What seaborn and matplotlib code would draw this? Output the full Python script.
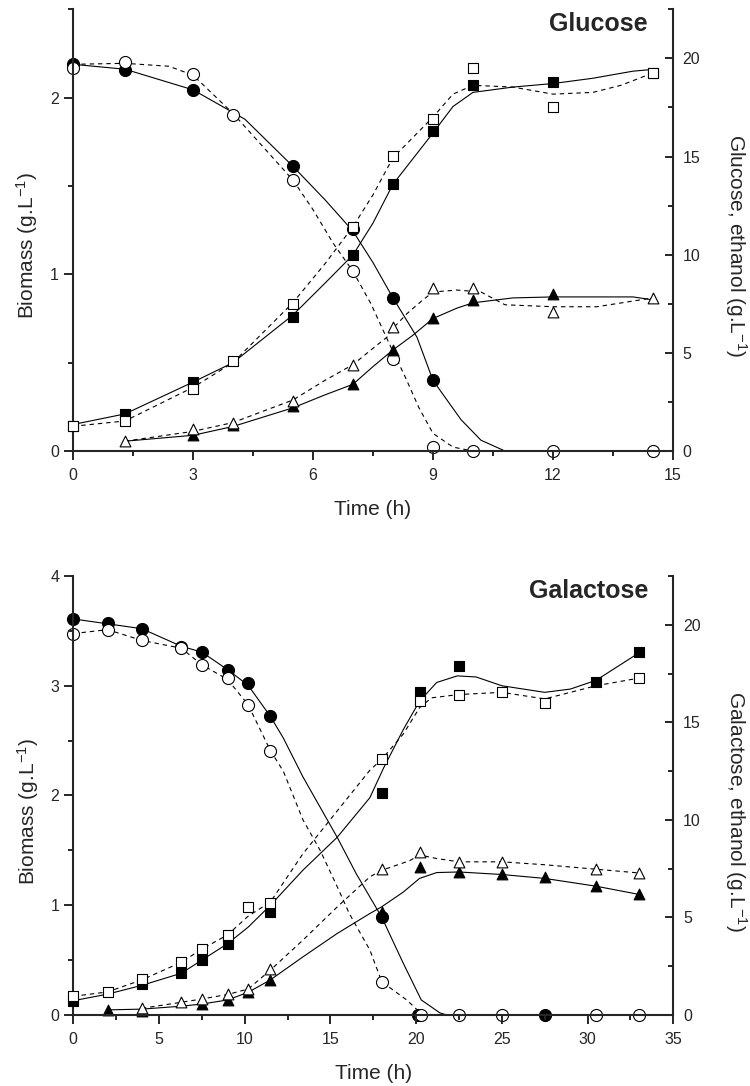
import matplotlib
matplotlib.use('Agg')
import matplotlib.pyplot as plt
import seaborn as sns
from matplotlib.ticker import MultipleLocator

# ---------------- Glucose panel: measured points ----------------
glu_t_sub_f = [0, 1.3, 3, 5.5, 7, 8, 9]
glu_sub_f = [19.7, 19.4, 18.4, 14.5, 11.3, 7.8, 3.6]
glu_t_sub_o = [0, 1.3, 3, 4, 5.5, 7, 8, 9, 10, 12, 14.5]
glu_sub_o = [19.5, 19.8, 19.2, 17.1, 13.8, 9.15, 4.7, 0.2, 0, 0, 0]

glu_t_bio_f = [0, 1.3, 3, 5.5, 7, 8, 9, 10, 12, 14.5]
glu_bio_f = [0.14, 0.21, 0.39, 0.76, 1.11, 1.51, 1.81, 2.07, 2.09, 2.14]
glu_t_bio_o = [0, 1.3, 3, 4, 5.5, 7, 8, 9, 10, 12, 14.5]
glu_bio_o = [0.14, 0.17, 0.35, 0.51, 0.83, 1.27, 1.67, 1.88, 2.17, 1.95, 2.14]

glu_t_eth_f = [3, 4, 5.5, 7, 8, 9, 10, 12]
glu_eth_f = [0.8, 1.3, 2.3, 3.4, 5.15, 6.8, 7.7, 8.0]
glu_t_eth_o = [1.3, 3, 4, 5.5, 7, 8, 9, 10, 12, 14.5]
glu_eth_o = [0.5, 1.1, 1.45, 2.55, 4.4, 6.3, 8.3, 8.3, 7.1, 7.8]

# ---------------- Glucose panel: fitted curves ----------------
glu_fit_t_sub_f = [0, 1.3, 3, 4.3, 5.5, 6.3, 7, 7.5, 8, 8.6, 9, 9.7, 10.2, 10.8]
glu_fit_sub_f = [19.7, 19.45, 18.4, 16.9, 14.5, 12.8, 11.2, 9.6, 7.8, 5.8, 3.6, 1.6, 0.55, 0.0]
glu_fit_t_sub_o = [0, 1.3, 2.4, 3, 4, 5.5, 6, 6.5, 7, 7.45, 7.9, 8.3, 8.65, 9, 9.5, 10]
glu_fit_sub_o = [19.7, 19.75, 19.6, 19.15, 17.2, 13.8, 12.3, 10.6, 9.15, 7.5, 5.5, 3.8, 2.2, 0.9, 0.2, 0]

glu_fit_t_bio_f = [0, 1.3, 3, 4, 5.5, 6.3, 7, 7.5, 8, 9, 9.5, 10, 11, 12, 13, 14, 14.5]
glu_fit_bio_f = [0.15, 0.21, 0.39, 0.5, 0.77, 0.95, 1.11, 1.29, 1.51, 1.8, 1.95, 2.03, 2.06, 2.08, 2.11, 2.15, 2.16]
glu_fit_t_bio_o = [0, 1.3, 3, 4, 5.5, 6.3, 7, 7.5, 8, 9, 9.5, 10, 11, 12, 13, 13.7, 14.5]
glu_fit_bio_o = [0.14, 0.17, 0.36, 0.5, 0.84, 1.06, 1.27, 1.45, 1.66, 1.89, 2.02, 2.07, 2.06, 2.02, 2.03, 2.07, 2.14]

glu_fit_t_eth_f = [1.3, 3, 4, 5.5, 6.3, 7, 7.5, 8, 8.5, 9, 9.6, 10, 11, 12, 14, 14.5]
glu_fit_eth_f = [0.5, 0.8, 1.25, 2.2, 2.86, 3.4, 4.3, 5.15, 5.9, 6.75, 7.28, 7.55, 7.8, 7.85, 7.85, 7.7]
glu_fit_t_eth_o = [1.3, 3, 4, 5.5, 6.3, 7, 7.45, 7.85, 8, 8.35, 8.75, 9, 9.6, 10.2, 10.8, 12, 13.1, 14.5]
glu_fit_eth_o = [0.5, 1.0, 1.45, 2.6, 3.6, 4.4, 5.15, 5.8, 6.25, 7.0, 7.7, 8.1, 8.2, 8.1, 7.45, 7.35, 7.35, 7.8]

# ---------------- Galactose panel: measured points ----------------
gal_t_sub_f = [0, 2, 4, 6.3, 7.5, 9, 10.2, 11.5, 18, 20.1, 27.5]
gal_sub_f = [20.3, 20.1, 19.8, 18.85, 18.6, 17.7, 17.0, 15.3, 5.0, 0, 0]
gal_t_sub_o = [0, 2, 4, 6.3, 7.5, 9, 10.2, 11.5, 18, 20.3, 22.5, 25, 30.5, 33]
gal_sub_o = [19.55, 19.75, 19.2, 18.8, 17.95, 17.25, 15.9, 13.55, 1.7, 0, 0, 0, 0, 0]

gal_t_bio_f = [0, 4, 6.3, 7.5, 9, 11.5, 18, 20.2, 22.5, 30.5, 33]
gal_bio_f = [0.13, 0.28, 0.38, 0.5, 0.65, 0.94, 2.02, 2.94, 3.18, 3.03, 3.31]
gal_t_bio_o = [0, 2, 4, 6.3, 7.5, 9, 10.2, 11.5, 18, 20.2, 22.5, 25, 27.5, 33]
gal_bio_o = [0.17, 0.21, 0.33, 0.48, 0.6, 0.73, 0.98, 1.02, 2.33, 2.86, 2.92, 2.94, 2.84, 3.07]

gal_t_eth_f = [2, 4, 7.5, 9, 10.2, 11.5, 18, 20.2, 22.5, 25, 27.5, 30.5, 33]
gal_eth_f = [0.26, 0.2, 0.56, 0.77, 1.16, 1.79, 5.3, 7.6, 7.33, 7.22, 7.05, 6.6, 6.18]
gal_t_eth_o = [4, 6.3, 7.5, 9, 10.2, 11.5, 18, 20.2, 22.5, 25, 30.5, 33]
gal_eth_o = [0.34, 0.65, 0.82, 1.1, 1.33, 2.35, 7.47, 8.36, 7.85, 7.85, 7.47, 7.28]

# ---------------- Galactose panel: fitted curves ----------------
gal_fit_t_sub_f = [0, 2, 4, 6.3, 7.5, 9, 10.2, 11.5, 12.25, 13.4, 15.4, 16.5, 18, 19.25, 20.3, 21.4, 21.8]
gal_fit_sub_f = [20.3, 20.05, 19.8, 18.9, 18.6, 17.7, 16.9, 15.3, 14.2, 12.2, 9.1, 7.25, 5.0, 2.65, 0.77, 0.1, 0]
gal_fit_t_sub_o = [0, 2, 4, 6.3, 7.5, 9, 10.2, 11.5, 12.25, 13.4, 14.4, 15.4, 16.1, 17.3, 18, 19.45, 20.2, 20.5]
gal_fit_sub_o = [19.55, 19.75, 19.2, 18.8, 17.95, 17.2, 15.9, 13.55, 12.5, 10.0, 8.44, 6.57, 5.2, 3.33, 1.7, 0.77, 0.15, 0]

gal_fit_t_bio_f = [0, 2, 4, 6.3, 7.5, 9, 10.2, 11.5, 13.4, 15.4, 17.3, 18.1, 19.25, 20.2, 21.2, 22.4, 23.5, 25, 27.5, 29, 30.5, 33]
gal_fit_bio_f = [0.13, 0.19, 0.27, 0.38, 0.5, 0.65, 0.8, 1.0, 1.32, 1.62, 1.98, 2.25, 2.6, 2.86, 3.03, 3.09, 3.08, 3.0, 2.94, 2.97, 3.05, 3.3]
gal_fit_t_bio_o = [0, 2, 4, 6.3, 7.5, 9, 10.2, 11.5, 13.4, 15.4, 17.3, 18, 19.25, 20.2, 20.9, 22.5, 25, 27.5, 30.5, 33]
gal_fit_bio_o = [0.17, 0.21, 0.32, 0.48, 0.6, 0.73, 0.9, 1.03, 1.47, 1.86, 2.23, 2.33, 2.56, 2.8, 2.89, 2.92, 2.94, 2.88, 3.0, 3.07]

gal_fit_t_eth_f = [2, 4, 6.3, 7.5, 9, 10.2, 11.5, 13.4, 15.4, 17.3, 18, 19.25, 20.2, 21.2, 22.5, 25, 27.5, 30.5, 33]
gal_fit_eth_f = [0.26, 0.3, 0.45, 0.56, 0.77, 1.16, 1.8, 2.98, 4.18, 5.2, 5.55, 6.3, 7.0, 7.3, 7.33, 7.2, 7.0, 6.6, 6.18]
gal_fit_t_eth_o = [4, 6.3, 7.5, 9, 10.2, 11.5, 13.4, 15.4, 17.3, 18, 19.6, 20.2, 21.2, 22.5, 25, 27.5, 30.5, 33]
gal_fit_eth_o = [0.34, 0.65, 0.82, 1.05, 1.33, 2.3, 3.84, 5.54, 7.08, 7.42, 7.9, 8.2, 8.02, 7.85, 7.85, 7.7, 7.47, 7.28]

DASH = (0, (4, 3.5))

sns.set_style('ticks')
plt.rcParams['font.family'] = ['Liberation Sans', 'DejaVu Sans']
plt.rcParams['mathtext.default'] = 'regular'


def fit(ax, t, v, dashed):
    sns.lineplot(x=t, y=v, ax=ax, color='black', lw=0.8, estimator=None, sort=False,
                 linestyle=DASH if dashed else '-', zorder=2)


def pts(ax, t, v, marker, filled, s):
    sns.scatterplot(x=t, y=v, ax=ax, marker=marker, s=s,
                    color='black' if filled else 'white', edgecolor='black',
                    linewidth=0.8, zorder=4, clip_on=False, legend=False)


def style(ax, ax2, xmax, xstep, ymax, title, right_label):
    ax.set_xlim(0, xmax)
    ax.set_ylim(0, ymax)
    ax2.set_ylim(0, 22.5)
    ax.xaxis.set_major_locator(MultipleLocator(xstep))
    ax.xaxis.set_minor_locator(MultipleLocator(xstep / 2))
    ax.yaxis.set_major_locator(MultipleLocator(1))
    ax.yaxis.set_minor_locator(MultipleLocator(0.5))
    ax2.yaxis.set_major_locator(MultipleLocator(5))
    ax2.yaxis.set_minor_locator(MultipleLocator(2.5))
    for s in ['top', 'right']:
        ax.spines[s].set_visible(False)
    for s in ['top', 'left', 'bottom']:
        ax2.spines[s].set_visible(False)
    for s in ['left', 'bottom']:
        ax.spines[s].set_linewidth(1.5)
    ax2.spines['right'].set_linewidth(1.5)
    ax.tick_params(axis='x', which='major', direction='out', length=6.5, width=1.4,
                   labelsize=11.5, pad=6)
    ax.tick_params(axis='y', which='major', direction='out', length=6.5, width=1.4,
                   labelsize=11.5, pad=3.5)
    ax.tick_params(which='minor', direction='out', length=3.5, width=1.4)
    ax2.tick_params(axis='y', which='major', direction='in', length=6, width=1.4,
                    labelsize=11.5, pad=7)
    ax2.tick_params(axis='y', which='minor', direction='in', length=3.5, width=1.4)
    ax.set_xlabel('Time (h)', fontsize=15, labelpad=12)
    ax.set_ylabel('Biomass (g.L$^{-1}$)', fontsize=15, va='center')
    ax.yaxis.set_label_coords(-0.076, 0.464)
    ax2.set_ylabel(right_label, fontsize=15, rotation=270, va='center')
    ax2.yaxis.set_label_coords(1.105, 0.464)
    ax.text(0.958, 0.951, title, transform=ax.transAxes, ha='right', va='baseline',
            fontsize=18, fontweight='bold')


fig = plt.figure(figsize=(7.5, 10.86), dpi=100)

# Glucose
ax = fig.add_axes([0.0973, 0.5847, 0.8, 0.4067])
ax2 = ax.twinx()
ax.set_zorder(2)
ax.patch.set_visible(False)
fit(ax, glu_fit_t_bio_f, glu_fit_bio_f, False)
fit(ax, glu_fit_t_bio_o, glu_fit_bio_o, True)
fit(ax2, glu_fit_t_sub_f, glu_fit_sub_f, False)
fit(ax2, glu_fit_t_sub_o, glu_fit_sub_o, True)
fit(ax2, glu_fit_t_eth_f, glu_fit_eth_f, False)
fit(ax2, glu_fit_t_eth_o, glu_fit_eth_o, True)
pts(ax, glu_t_bio_f, glu_bio_f, 's', True, 55)
pts(ax, glu_t_bio_o, glu_bio_o, 's', False, 55)
pts(ax2, glu_t_sub_f, glu_sub_f, 'o', True, 75)
pts(ax2, glu_t_sub_o, glu_sub_o, 'o', False, 75)
pts(ax2, glu_t_eth_f, glu_eth_f, '^', True, 60)
pts(ax2, glu_t_eth_o, glu_eth_o, '^', False, 60)
style(ax, ax2, 15, 3, 2.5, 'Glucose', 'Glucose, ethanol (g.L$^{-1}$)')

# Galactose
bx = fig.add_axes([0.0977, 0.0654, 0.8, 0.4042])
bx2 = bx.twinx()
bx.set_zorder(2)
bx.patch.set_visible(False)
fit(bx, gal_fit_t_bio_f, gal_fit_bio_f, False)
fit(bx, gal_fit_t_bio_o, gal_fit_bio_o, True)
fit(bx2, gal_fit_t_sub_f, gal_fit_sub_f, False)
fit(bx2, gal_fit_t_sub_o, gal_fit_sub_o, True)
fit(bx2, gal_fit_t_eth_f, gal_fit_eth_f, False)
fit(bx2, gal_fit_t_eth_o, gal_fit_eth_o, True)
pts(bx, gal_t_bio_f, gal_bio_f, 's', True, 55)
pts(bx, gal_t_bio_o, gal_bio_o, 's', False, 55)
pts(bx2, gal_t_sub_f, gal_sub_f, 'o', True, 75)
pts(bx2, gal_t_sub_o, gal_sub_o, 'o', False, 75)
pts(bx2, gal_t_eth_f, gal_eth_f, '^', True, 60)
pts(bx2, gal_t_eth_o, gal_eth_o, '^', False, 60)
style(bx, bx2, 35, 5, 4, 'Galactose', 'Galactose, ethanol (g.L$^{-1}$)')

fig.savefig('out.png', dpi=100, facecolor='white')
